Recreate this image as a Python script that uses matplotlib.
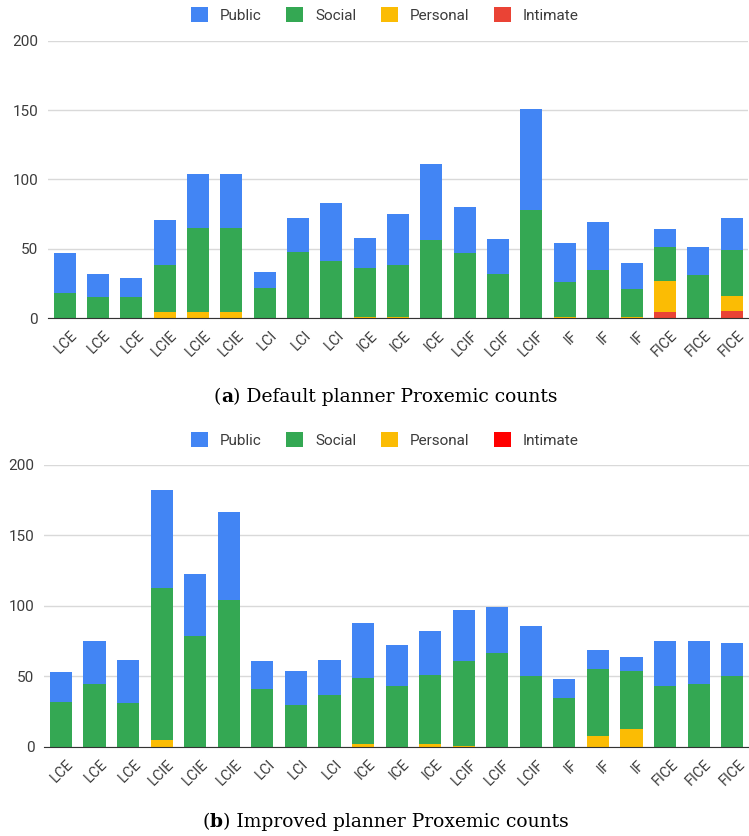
import numpy as np
import matplotlib.pyplot as plt
from matplotlib import transforms
from matplotlib.offsetbox import TextArea, HPacker, AnchoredOffsetbox

labels = ["LCE", "LCE", "LCE", "LCIE", "LCIE", "LCIE", "LCI", "LCI", "LCI",
          "ICE", "ICE", "ICE", "LCIF", "LCIF", "LCIF", "IF", "IF", "IF",
          "FICE", "FICE", "FICE"]

# default planner
a_intimate = [0, 0, 0, 0, 0, 0, 0, 0, 0, 0, 0, 0, 0, 0, 0, 0, 0, 0, 4, 0, 5]
a_personal = [0, 0, 0, 4, 4, 4, 0, 0, 0, 1, 1, 0, 0, 0, 0, 1, 0, 1, 23, 0, 11]
a_social = [18, 15, 15, 34, 61, 61, 22, 48, 41, 35, 37, 56, 47, 32, 78, 25, 35, 20, 24, 31, 33]
a_public = [29, 17, 14, 33, 39, 39, 11, 24, 42, 22, 37, 55, 33, 25, 73, 28, 34, 19, 13, 20, 23]

# improved planner
b_intimate = [0] * 21
b_personal = [0, 0, 0, 5, 0, 0, 0, 0, 0, 2, 0, 2, 1, 0, 0, 0, 8, 13, 0, 0, 0]
b_social = [32, 45, 31, 108, 79, 104, 41, 30, 37, 47, 43, 49, 60, 67, 50, 35, 47, 41, 43, 45, 50]
b_public = [21, 30, 31, 69, 44, 63, 20, 24, 25, 39, 29, 31, 36, 32, 36, 13, 14, 10, 32, 30, 24]

BLUE = "#4285F4"
GREEN = "#34A853"
YELLOW = "#FBBC04"
TXT = "#3c3c3c"

plt.rcParams["font.family"] = ["Roboto", "DejaVu Sans"]

fig = plt.figure(figsize=(7.49, 8.36), dpi=100)


def draw(rect, intimate, personal, social, public, red, legend_y):
    ax = fig.add_axes(rect)
    x = np.arange(len(labels))
    bottom = np.zeros(len(labels))
    series = [("Intimate", intimate, red), ("Personal", personal, YELLOW),
              ("Social", social, GREEN), ("Public", public, BLUE)]
    handles = {}
    for name, vals, col in series:
        vals = np.array(vals, dtype=float)
        h = ax.bar(x, vals, 0.66, bottom=bottom, color=col, linewidth=0)
        handles[name] = h
        bottom += vals
    ax.set_xlim(-0.5, len(labels) - 0.5)
    ax.set_ylim(0, 200)
    ax.set_yticks([0, 50, 100, 150, 200])
    ax.grid(axis="y", color="#d9d9d9", linewidth=1)
    ax.set_axisbelow(True)
    for s in ["top", "right", "left"]:
        ax.spines[s].set_visible(False)
    ax.spines["bottom"].set_color("#333333")
    ax.tick_params(axis="y", length=0, labelsize=11, labelcolor=TXT, pad=7)
    ax.tick_params(axis="x", length=0, labelsize=10.5, labelcolor=TXT)
    ax.set_xticks(x)
    ax.set_xticklabels(labels, rotation=45, ha="right", rotation_mode="anchor")
    shift = transforms.ScaledTranslation(4 / 72, -4 / 72, fig.dpi_scale_trans)
    for t in ax.get_xticklabels():
        t.set_transform(t.get_transform() + shift)
    order = ["Public", "Social", "Personal", "Intimate"]
    fig.legend([handles[k] for k in order], order, loc="center",
               bbox_to_anchor=(0.514, legend_y), ncol=4, frameon=False,
               fontsize=11, handlelength=1.1, handleheight=1.1,
               columnspacing=1.6, handletextpad=0.8, labelcolor=TXT)
    return ax


draw([0.064, 0.6196, 0.935, 0.3314], a_intimate, a_personal, a_social, a_public,
     "#EA4335", 1 - 15 / 836)
draw([0.059, 0.1065, 0.941, 0.3373], b_intimate, b_personal, b_social, b_public,
     "#FF0000", 1 - 440 / 836)


def caption(letter, rest, y):
    serif = dict(family="DejaVu Serif", size=13.5, color="black")
    parts = [TextArea("(", textprops=serif),
             TextArea(letter, textprops=dict(serif, weight="bold")),
             TextArea(") " + rest, textprops=serif)]
    box = HPacker(children=parts, pad=0, sep=0, align="baseline")
    anchored = AnchoredOffsetbox(loc="center", child=box, frameon=False,
                                 bbox_to_anchor=(0.515, y),
                                 bbox_transform=fig.transFigure, pad=0)
    fig.add_artist(anchored)


caption("a", "Default planner Proxemic counts", 1 - 397 / 836)
caption("b", "Improved planner Proxemic counts", 1 - 822 / 836)

fig.savefig("out.png", dpi=100)
